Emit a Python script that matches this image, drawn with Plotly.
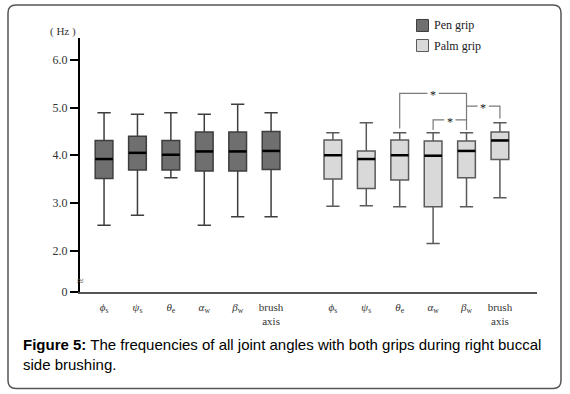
import plotly.graph_objects as go

# ---------------- data ----------------
categories = ["<i>ϕ</i><sub>s</sub>", "<i>ψ</i><sub>s</sub>", "<i>θ</i><sub>e</sub>",
              "<i>α</i><sub>w</sub>", "<i>β</i><sub>w</sub>", "brush<br>axis"]

pen_lower = [2.53, 2.74, 3.53, 2.53, 2.71, 2.71]
pen_q1 = [3.51, 3.69, 3.69, 3.67, 3.67, 3.70]
pen_median = [3.92, 4.05, 4.01, 4.08, 4.08, 4.09]
pen_q3 = [4.31, 4.40, 4.31, 4.49, 4.49, 4.50]
pen_upper = [4.89, 4.86, 4.89, 4.86, 5.07, 4.89]

palm_lower = [2.93, 2.94, 2.92, 2.15, 2.92, 3.11]
palm_q1 = [3.50, 3.30, 3.48, 2.92, 3.53, 3.91]
palm_median = [4.00, 3.92, 4.00, 3.99, 4.09, 4.31]
palm_q3 = [4.32, 4.09, 4.32, 4.30, 4.30, 4.49]
palm_upper = [4.47, 4.68, 4.47, 4.47, 4.47, 4.68]

# significance brackets on palm grip: (left idx, right idx, top, left-leg bottom, right-leg bottom)
brackets = [
    (2, 4, 5.30, 4.56, 5.03),
    (4, 5, 5.03, 4.74, 4.77),
    (3, 4, 4.74, 4.53, 4.53),
]

y_tick_vals = [1.13, 2, 3, 4, 5, 6]
y_tick_text = ["0", "2.0", "3.0", "4.0", "5.0", "6.0"]
y_range = [1.13, 6.46]
x_range = [-0.72, 12.96]
palm_offset = 6.85
box_w = 0.53

pen_x = [i for i in range(len(categories))]
palm_x = [palm_offset + i for i in range(len(categories))]

# plot area in pixels
L, R, T, B = 80, 537, 38, 291.7
W, H = 570, 394

SERIF = "Liberation Serif, Times New Roman, serif"


def px(xp):
    return (xp - L) / (R - L)


def py(yp):
    return (B - yp) / (B - T)


fig = go.Figure()

PEN_FILL, PEN_LINE = "#6f6f6f", "#3e3e3e"
PALM_FILL, PALM_LINE = "#d9d9d9", "#5a5a5a"

fig.add_trace(go.Box(
    x=pen_x, q1=pen_q1, median=pen_median, q3=pen_q3,
    lowerfence=pen_lower, upperfence=pen_upper,
    width=box_w, whiskerwidth=0.75, fillcolor=PEN_FILL,
    line=dict(color=PEN_LINE, width=1.5), showlegend=False, hoverinfo="skip",
    boxpoints=False,
))
fig.add_trace(go.Box(
    x=palm_x, q1=palm_q1, median=palm_median, q3=palm_q3,
    lowerfence=palm_lower, upperfence=palm_upper,
    width=box_w, whiskerwidth=0.75, fillcolor=PALM_FILL,
    line=dict(color=PALM_LINE, width=1.5), showlegend=False, hoverinfo="skip",
    boxpoints=False,
))

# median lines (black, thicker)
mx, my = [], []
for xs, meds in ((pen_x, pen_median), (palm_x, palm_median)):
    for xv, m in zip(xs, meds):
        mx += [xv - box_w / 2, xv + box_w / 2, None]
        my += [m, m, None]
fig.add_trace(go.Scatter(x=mx, y=my, mode="lines", line=dict(color="#000000", width=2.5),
                         showlegend=False, hoverinfo="skip"))

# significance brackets
gap = 0.17
for li, ri, top, lb, rb in brackets:
    xl, xr = palm_x[li], palm_x[ri]
    xm = (xl + xr) / 2
    fig.add_trace(go.Scatter(
        x=[xl, xl, xm - gap, None, xm + gap, xr, xr],
        y=[lb, top, top, None, top, top, rb],
        mode="lines", line=dict(color="#7a7a7a", width=1.2),
        showlegend=False, hoverinfo="skip"))
    fig.add_annotation(x=xm, y=top, text="*", showarrow=False, yshift=-2,
                       xanchor="center", yanchor="middle",
                       font=dict(family=SERIF, size=12, color="#111"))

# axis break mark
fig.add_annotation(x=x_range[0], y=1.37, text="≈", showarrow=False,
                   xanchor="center", yanchor="middle",
                   font=dict(family=SERIF, size=12, color="#555"))

# (Hz) label
fig.add_annotation(x=px(63), y=py(32), xref="paper", yref="paper", text="( Hz )",
                   xanchor="center", yanchor="middle",
                   showarrow=False, font=dict(family=SERIF, size=11, color="#333"))

# legend (manual)
for label, fill, line, yc in (("Pen grip", PEN_FILL, PEN_LINE, 25.5), ("Palm grip", PALM_FILL, PALM_LINE, 45.5)):
    fig.add_shape(type="rect", xref="paper", yref="paper",
                  x0=px(416.5), x1=px(428.5), y0=py(yc + 6), y1=py(yc - 6),
                  fillcolor=fill, line=dict(color=line, width=1))
    fig.add_annotation(x=px(432), y=py(yc), xref="paper", yref="paper", text=label,
                       xanchor="left", yanchor="middle", showarrow=False,
                       font=dict(family=SERIF, size=12, color="#222"))

# outer rounded frame
x0, x1, y0, y1 = 8, 561, 5, 388
r = 8


def P(a, b):
    return f"{px(a):.5f},{py(b):.5f}"


path = (f"M {P(x0 + r, y0)} L {P(x1 - r, y0)} Q {P(x1, y0)} {P(x1, y0 + r)} "
        f"L {P(x1, y1 - r)} Q {P(x1, y1)} {P(x1 - r, y1)} "
        f"L {P(x0 + r, y1)} Q {P(x0, y1)} {P(x0, y1 - r)} "
        f"L {P(x0, y0 + r)} Q {P(x0, y0)} {P(x0 + r, y0)} Z")
fig.add_shape(type="path", xref="paper", yref="paper", path=path,
              line=dict(color="#555555", width=1.5))

# caption
fig.add_annotation(x=px(21), y=py(334), xref="paper", yref="paper",
                   xanchor="left", yanchor="top", align="left", showarrow=False,
                   text="<b>Figure 5:</b> The frequencies of all joint angles with both grips during right buccal<br>side brushing.",
                   font=dict(family="Liberation Sans, Arial, sans-serif", size=15, color="#000"))

fig.update_layout(
    width=W, height=H,
    margin=dict(l=L, r=W - R, t=T, b=H - B),
    paper_bgcolor="white", plot_bgcolor="white",
    xaxis=dict(range=x_range, tickmode="array", tickvals=pen_x + palm_x,
               ticktext=categories + categories, showgrid=False, zeroline=False,
               showline=True, linecolor="#555555", linewidth=1.5, ticks="",
               ticklabelstandoff=4,
               tickfont=dict(family=SERIF, size=11, color="#333")),
    yaxis=dict(range=y_range, tickmode="array", tickvals=y_tick_vals, ticktext=y_tick_text,
               showgrid=False, zeroline=False, showline=True, linecolor="#000", linewidth=2,
               ticks="outside", ticklen=8, tickwidth=2, tickcolor="#000",
               tickfont=dict(family=SERIF, size=12, color="#333")),
)

fig.write_html("out.html", config={"displayModeBar": False},
               post_script="document.body.style.margin='0';")
